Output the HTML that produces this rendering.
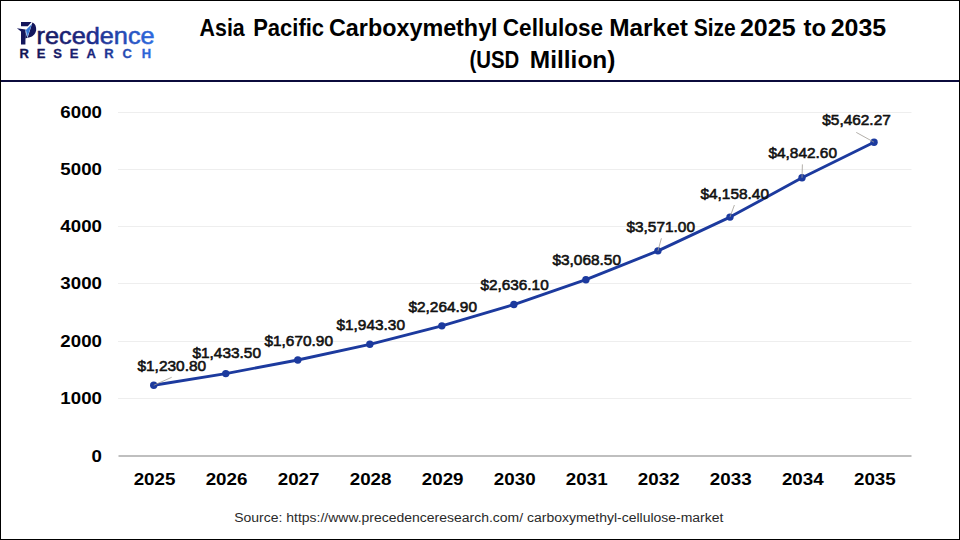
<!DOCTYPE html>
<html><head><meta charset="utf-8"><title>Asia Pacific Carboxymethyl Cellulose Market Size 2025 to 2035</title>
<style>
html,body{margin:0;padding:0;background:#fff;}
body{width:960px;height:540px;overflow:hidden;position:relative;}
svg{position:absolute;left:0;top:0;}
text{font-family:"Liberation Sans",Arial,sans-serif;}
</style></head><body>
<svg width="960" height="540" viewBox="0 0 960 540">
<defs>
<linearGradient id="lg" x1="37" y1="0" x2="154" y2="0" gradientUnits="userSpaceOnUse">
<stop offset="0" stop-color="#15175e"/><stop offset="0.45" stop-color="#1b2a86"/><stop offset="1" stop-color="#2c6ae0"/>
</linearGradient>
<linearGradient id="lg2" x1="20" y1="0" x2="151" y2="0" gradientUnits="userSpaceOnUse">
<stop offset="0" stop-color="#111452"/><stop offset="0.55" stop-color="#18237a"/><stop offset="1" stop-color="#2c6ae0"/>
</linearGradient>
</defs>
<rect x="0" y="0" width="960" height="540" fill="#fff"/>

<g fill="#14165c">
<polygon points="21,21.9 31.6,22.0 27.8,26.2 21,26.2"/>
<polygon points="16.9,28.2 25.6,29.5 25.4,44.6 21,44.6 21,31.4"/>
<polygon points="25.3,32 27.6,37.7 25.3,38.6"/>
<path d="M32.4,22.5 C35.3,23.6 36.4,27 36.1,30.2 C35.6,34.6 31.6,37.5 27.6,37.7 Z"/>
</g>
<polygon points="25.6,30.3 31.9,23.9 27.4,37.0" fill="#3577d6"/>
<line x1="25.9" y1="30.5" x2="27.3" y2="36.6" stroke="#9cc2f2" stroke-width="0.7"/>

<text x="36.55" y="44" font-size="24" fill="url(#lg)" stroke="url(#lg)" stroke-width="0.55" textLength="118.09" lengthAdjust="spacingAndGlyphs">recedence</text>
<g font-size="13" font-weight="bold" fill="url(#lg2)" stroke="url(#lg2)" stroke-width="0.3" text-anchor="middle">
<text x="24.2" y="58">R</text>
<text x="41.0" y="58">E</text>
<text x="57.5" y="58">S</text>
<text x="74.0" y="58">E</text>
<text x="91.1" y="58">A</text>
<text x="109.0" y="58">R</text>
<text x="127.2" y="58">C</text>
<text x="146.5" y="58">H</text>
</g>
<g font-weight="bold" fill="#000">
<text x="199.61" y="35.5" font-size="24" textLength="45.13" lengthAdjust="spacingAndGlyphs">Asia</text>
<text x="253.17" y="35.5" font-size="24" textLength="70.94" lengthAdjust="spacingAndGlyphs">Pacific</text>
<text x="329.03" y="35.5" font-size="24" textLength="168.57" lengthAdjust="spacingAndGlyphs">Carboxymethyl</text>
<text x="502.81" y="35.5" font-size="24" textLength="100.35" lengthAdjust="spacingAndGlyphs">Cellulose</text>
<text x="609.22" y="35.5" font-size="24" textLength="78.66" lengthAdjust="spacingAndGlyphs">Market</text>
<text x="693.73" y="35.5" font-size="24" textLength="41.98" lengthAdjust="spacingAndGlyphs">Size</text>
<text x="739.96" y="35.5" font-size="24" textLength="55.65" lengthAdjust="spacingAndGlyphs">2025</text>
<text x="803.5" y="35.5" font-size="24" textLength="22.55" lengthAdjust="spacingAndGlyphs">to</text>
<text x="830.66" y="35.5" font-size="24" textLength="55.55" lengthAdjust="spacingAndGlyphs">2035</text>
<text x="469.45" y="67.7" font-size="24" textLength="49.87" lengthAdjust="spacingAndGlyphs">(USD</text>
<text x="529.86" y="67.7" font-size="24" textLength="85.54" lengthAdjust="spacingAndGlyphs">Million)</text>
</g>
<rect x="0" y="80" width="960" height="2" fill="#0b0b3c"/>
<rect x="118" y="112" width="793.5" height="1" fill="#eeeeee"/>
<rect x="118" y="169" width="793.5" height="1" fill="#eeeeee"/>
<rect x="118" y="226" width="793.5" height="1" fill="#eeeeee"/>
<rect x="118" y="283" width="793.5" height="1" fill="#eeeeee"/>
<rect x="118" y="341" width="793.5" height="1" fill="#eeeeee"/>
<rect x="118" y="398" width="793.5" height="1" fill="#eeeeee"/>
<rect x="118.5" y="455" width="793" height="2" fill="#bfbfbf"/>
<text x="101.93" y="461.80" font-size="16.4" font-weight="bold" text-anchor="end" textLength="10.39" lengthAdjust="spacingAndGlyphs">0</text>
<text x="101.93" y="404.30" font-size="16.4" font-weight="bold" text-anchor="end" textLength="41.57" lengthAdjust="spacingAndGlyphs">1000</text>
<text x="101.93" y="347.30" font-size="16.4" font-weight="bold" text-anchor="end" textLength="41.57" lengthAdjust="spacingAndGlyphs">2000</text>
<text x="101.93" y="289.30" font-size="16.4" font-weight="bold" text-anchor="end" textLength="41.57" lengthAdjust="spacingAndGlyphs">3000</text>
<text x="101.93" y="232.30" font-size="16.4" font-weight="bold" text-anchor="end" textLength="41.57" lengthAdjust="spacingAndGlyphs">4000</text>
<text x="101.93" y="175.30" font-size="16.4" font-weight="bold" text-anchor="end" textLength="41.57" lengthAdjust="spacingAndGlyphs">5000</text>
<text x="101.93" y="118.30" font-size="16.4" font-weight="bold" text-anchor="end" textLength="41.57" lengthAdjust="spacingAndGlyphs">6000</text>
<text x="154.54" y="484.8" font-size="16.4" font-weight="bold" text-anchor="middle" textLength="41.78" lengthAdjust="spacingAndGlyphs">2025</text>
<text x="226.57" y="484.8" font-size="16.4" font-weight="bold" text-anchor="middle" textLength="41.78" lengthAdjust="spacingAndGlyphs">2026</text>
<text x="298.60" y="484.8" font-size="16.4" font-weight="bold" text-anchor="middle" textLength="41.78" lengthAdjust="spacingAndGlyphs">2027</text>
<text x="370.63" y="484.8" font-size="16.4" font-weight="bold" text-anchor="middle" textLength="41.78" lengthAdjust="spacingAndGlyphs">2028</text>
<text x="442.66" y="484.8" font-size="16.4" font-weight="bold" text-anchor="middle" textLength="41.78" lengthAdjust="spacingAndGlyphs">2029</text>
<text x="514.69" y="484.8" font-size="16.4" font-weight="bold" text-anchor="middle" textLength="41.78" lengthAdjust="spacingAndGlyphs">2030</text>
<text x="586.72" y="484.8" font-size="16.4" font-weight="bold" text-anchor="middle" textLength="41.78" lengthAdjust="spacingAndGlyphs">2031</text>
<text x="658.75" y="484.8" font-size="16.4" font-weight="bold" text-anchor="middle" textLength="41.78" lengthAdjust="spacingAndGlyphs">2032</text>
<text x="730.78" y="484.8" font-size="16.4" font-weight="bold" text-anchor="middle" textLength="41.78" lengthAdjust="spacingAndGlyphs">2033</text>
<text x="802.81" y="484.8" font-size="16.4" font-weight="bold" text-anchor="middle" textLength="41.78" lengthAdjust="spacingAndGlyphs">2034</text>
<text x="874.84" y="484.8" font-size="16.4" font-weight="bold" text-anchor="middle" textLength="41.78" lengthAdjust="spacingAndGlyphs">2035</text>
<polyline points="153.75,385.25 225.78,373.60 297.81,359.97 369.84,344.32 441.87,325.85 513.90,304.53 585.93,279.70 657.96,250.84 729.99,217.10 802.02,177.81 874.05,142.22" fill="none" stroke="#1c3a9e" stroke-width="2.9" stroke-linejoin="round"/>
<circle cx="153.75" cy="385.25" r="3.7" fill="#1c3a9e"/>
<circle cx="225.78" cy="373.60" r="3.7" fill="#1c3a9e"/>
<circle cx="297.81" cy="359.97" r="3.7" fill="#1c3a9e"/>
<circle cx="369.84" cy="344.32" r="3.7" fill="#1c3a9e"/>
<circle cx="441.87" cy="325.85" r="3.7" fill="#1c3a9e"/>
<circle cx="513.90" cy="304.53" r="3.7" fill="#1c3a9e"/>
<circle cx="585.93" cy="279.70" r="3.7" fill="#1c3a9e"/>
<circle cx="657.96" cy="250.84" r="3.7" fill="#1c3a9e"/>
<circle cx="729.99" cy="217.10" r="3.7" fill="#1c3a9e"/>
<circle cx="802.02" cy="177.81" r="3.7" fill="#1c3a9e"/>
<circle cx="874.05" cy="142.22" r="3.7" fill="#1c3a9e"/>
<line x1="153.75" y1="385.25" x2="171.7" y2="377.3" stroke="#a09a94" stroke-width="0.8"/>
<line x1="657.96" y1="250.84" x2="661.4" y2="238.3" stroke="#a09a94" stroke-width="0.8"/>
<line x1="729.99" y1="217.10" x2="734.4" y2="205" stroke="#a09a94" stroke-width="0.8"/>
<line x1="802.02" y1="177.81" x2="802.4" y2="164.4" stroke="#a09a94" stroke-width="0.8"/>
<line x1="874.05" y1="142.22" x2="856.25" y2="132.4" stroke="#a09a94" stroke-width="0.8"/>
<g font-size="15.5" fill="#111" stroke="#111" stroke-width="0.6">
<text x="137.4" y="370.5" textLength="68.77" lengthAdjust="spacingAndGlyphs">$1,230.80</text>
<text x="192.4" y="358.3" textLength="68.57" lengthAdjust="spacingAndGlyphs">$1,433.50</text>
<text x="264.4" y="345.7" textLength="68.57" lengthAdjust="spacingAndGlyphs">$1,670.90</text>
<text x="336.4" y="329.7" textLength="68.57" lengthAdjust="spacingAndGlyphs">$1,943.30</text>
<text x="408.4" y="311.7" textLength="68.57" lengthAdjust="spacingAndGlyphs">$2,264.90</text>
<text x="480.4" y="289.5" textLength="68.32" lengthAdjust="spacingAndGlyphs">$2,636.10</text>
<text x="552.4" y="265.3" textLength="68.57" lengthAdjust="spacingAndGlyphs">$3,068.50</text>
<text x="626.4" y="231.7" textLength="68.57" lengthAdjust="spacingAndGlyphs">$3,571.00</text>
<text x="700.4" y="198.7" textLength="68.57" lengthAdjust="spacingAndGlyphs">$4,158.40</text>
<text x="768.4" y="157.7" textLength="68.57" lengthAdjust="spacingAndGlyphs">$4,842.60</text>
<text x="822.3" y="124.7" textLength="68.47" lengthAdjust="spacingAndGlyphs">$5,462.27</text>
</g>
<text x="234.26" y="521.7" font-size="12.3" fill="#2a2a2a" textLength="489.16" lengthAdjust="spacingAndGlyphs">Source: https://www.precedenceresearch.com/ carboxymethyl-cellulose-market</text>
<rect x="0.5" y="0.5" width="959" height="539" fill="none" stroke="#000" stroke-width="1"/>
</svg>
</body></html>
